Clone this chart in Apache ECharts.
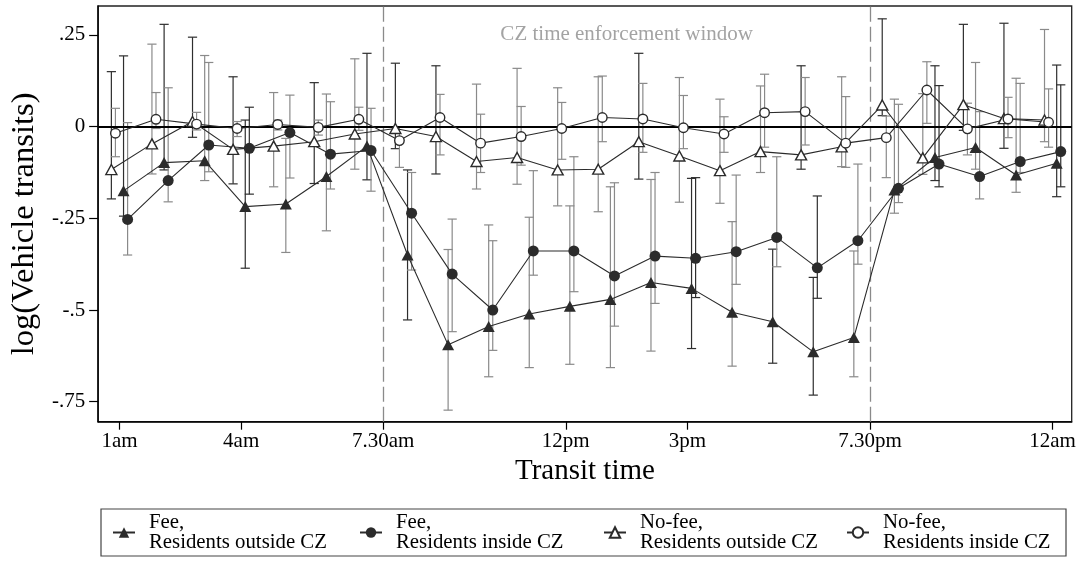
<!DOCTYPE html>
<html>
<head>
<meta charset="utf-8">
<script src="https://cdn.jsdelivr.net/npm/echarts@6.0.0/dist/echarts.min.js"></script>
<style>
  html, body { margin: 0; padding: 0; background: #fff; }
  #chart { width: 1079px; height: 561px; }
</style>
</head>
<body>
<div id="chart"></div>
<script>
// ---- Data: hourly effects on log(vehicle transits), with 95% intervals ----
const hours = [1, 2, 3, 4, 5, 6, 7, 8, 9, 10, 11, 12, 13, 14, 15, 16, 17, 18, 19, 20, 21, 22, 23, 24];

const tickValues = [1, 4, 7.5, 12, 15, 19.5, 24];
const tickLabels = ['1am', '4am', '7.30am', '12pm', '3pm', '7.30pm', '12am'];
const yTickValues = [-0.75, -0.5, -0.25, 0, 0.25];
const yTickLabels = ['-.75', '-.5', '-.25', '0', '.25'];

const windowBounds = [7.5, 19.5];
const windowLabel = 'CZ time enforcement window';
const windowLabelAt = [13.5, 0.25];

const seriesNames = [
  'Fee, Residents outside CZ',
  'Fee, Residents inside CZ',
  'No-fee, Residents outside CZ',
  'No-fee, Residents inside CZ'
];

// Fee, residents outside CZ
const feeOutside   = [-0.175, -0.098, -0.093, -0.218, -0.211, -0.136, -0.053, -0.350, -0.595, -0.545, -0.511, -0.490, -0.471, -0.425, -0.441, -0.506, -0.532, -0.614, -0.575, -0.173, -0.084, -0.057, -0.132, -0.100];
const feeOutsideLo = [-0.244, -0.118, -0.147, -0.386, -0.343, -0.284, -0.145, -0.527, -0.773, -0.682, -0.657, -0.648, -0.657, -0.612, -0.605, -0.653, -0.645, -0.732, -0.682, -0.236, -0.147, -0.116, -0.179, -0.191];
const feeOutsideHi = [ 0.193,  0.279,  0.194,  0.018, -0.032,  0.089,  0.200, -0.118, -0.335, -0.268, -0.247, -0.216, -0.164, -0.144, -0.141, -0.259, -0.334, -0.411, -0.339,  0.075,  0.166,  0.175,  0.132,  0.168];

// Fee, residents inside CZ
const feeInside   = [-0.253, -0.147, -0.050, -0.059, -0.016, -0.075, -0.065, -0.236, -0.402, -0.500, -0.339, -0.339, -0.407, -0.353, -0.359, -0.341, -0.302, -0.385, -0.311, -0.168, -0.102, -0.136, -0.095, -0.068];
const feeInsideLo = [-0.350, -0.205, -0.123, -0.184, -0.140, -0.170, -0.176, -0.391, -0.559, -0.610, -0.405, -0.450, -0.544, -0.482, -0.466, -0.430, -0.382, -0.468, -0.375, -0.207, -0.164, -0.197, -0.125, -0.164];
const feeInsideHi = [ 0.011,  0.106,  0.175,  0.053,  0.086,  0.068,  0.050, -0.125, -0.252, -0.311, -0.120, -0.082, -0.153, -0.125, -0.139, -0.132, -0.082, -0.189, -0.102,  0.061,  0.112,  0.041,  0.118,  0.114];

// No-fee, residents outside CZ
const nofeeOutside   = [-0.117, -0.047,  0.014, -0.062, -0.053, -0.041, -0.020, -0.005, -0.027, -0.095, -0.084, -0.118, -0.116, -0.041, -0.080, -0.120, -0.068, -0.077, -0.055,  0.059, -0.085,  0.060,  0.022,  0.018];
const nofeeOutsideLo = [-0.197, -0.129, -0.029, -0.156, -0.164, -0.155, -0.116, -0.060, -0.129, -0.170, -0.157, -0.216, -0.232, -0.143, -0.206, -0.209, -0.125, -0.116, -0.109,  0.030, -0.130, -0.010, -0.059, -0.041];
const nofeeOutsideHi = [ 0.150,  0.225,  0.244,  0.136,  0.093,  0.120,  0.185,  0.173,  0.166,  0.116,  0.159,  0.106,  0.136,  0.200,  0.134,  0.075,  0.111,  0.166,  0.136,  0.294,  0.090,  0.279,  0.282,  0.265];

// No-fee, residents inside CZ
const nofeeInside   = [-0.018,  0.020,  0.007, -0.005,  0.006, -0.002,  0.020, -0.038,  0.025, -0.045, -0.027, -0.005,  0.025,  0.021, -0.003, -0.020,  0.038,  0.041, -0.045, -0.030,  0.100, -0.006,  0.021,  0.012];
const nofeeInsideLo = [-0.082, -0.005, -0.009, -0.027, -0.009, -0.023, -0.010, -0.111, -0.077, -0.125, -0.105, -0.089, -0.041, -0.070, -0.060, -0.070, -0.056, -0.050, -0.111, -0.139,  0.009, -0.077, -0.030, -0.056];
const nofeeInsideHi = [ 0.050,  0.093,  0.039,  0.014,  0.018,  0.018,  0.053,  0.000,  0.088,  0.034,  0.055,  0.066,  0.138,  0.118,  0.085,  0.027,  0.143,  0.134,  0.082,  0.029,  0.177,  0.064,  0.080,  0.103];

// ---- Styling ----
const FONT = "'Liberation Serif', 'Times New Roman', serif";
const INK = '#2b2b2b';
const CAP_DARK = '#2e2e2e';
const CAP_GRAY = '#8a8a8a';

// which interval caps are drawn in the darker tone (1 = dark)
const capToneFeeOutside   = [1,1,0,1,0,0,1,1,0,0,0,0,0,0,1,0,1,1,0,0,1,0,0,1];
const capToneFeeInside    = [0,0,0,1,0,0,0,0,0,0,0,0,0,0,1,0,0,1,0,0,1,0,0,1];
const capToneNofeeOutside = [1,0,1,1,0,1,0,1,1,0,0,0,0,1,0,0,0,1,0,1,0,1,1,0];
const capToneNofeeInside  = [0,0,0,0,0,0,0,0,0,0,0,0,0,0,0,0,0,0,0,0,0,0,0,0];

const groups = [
  { name: seriesNames[0], values: feeOutside,   lo: feeOutsideLo,   hi: feeOutsideHi,   tone: capToneFeeOutside,
    shift: 0.1,  symbol: 'triangle', size: [12, 11], fill: INK,  border: 0 },
  { name: seriesNames[1], values: feeInside,    lo: feeInsideLo,    hi: feeInsideHi,    tone: capToneFeeInside,
    shift: 0.2,  symbol: 'circle',   size: 11,       fill: INK,  border: 0 },
  { name: seriesNames[2], values: nofeeOutside, lo: nofeeOutsideLo, hi: nofeeOutsideHi, tone: capToneNofeeOutside,
    shift: -0.2, symbol: 'triangle', size: [11, 10], fill: '#fff', border: 1.4 },
  { name: seriesNames[3], values: nofeeInside,  lo: nofeeInsideLo,  hi: nofeeInsideHi,  tone: capToneNofeeInside,
    shift: -0.1, symbol: 'circle',   size: 9.5,      fill: '#fff', border: 1.4 }
];

const legendLefts = [112, 359, 603, 846];

function labelFor(values, labels, v) {
  for (let i = 0; i < values.length; i++) {
    if (Math.abs(values[i] - v) < 1e-6) return labels[i];
  }
  return '';
}

function intervalRenderer(tone) {
  return function (params, api) {
    const x = api.value(0);
    const lo = api.value(1);
    const hi = api.value(2);
    const top = api.coord([x, hi]);
    const bot = api.coord([x, lo]);
    const half = 4.6;
    const stroke = tone[params.dataIndex] ? CAP_DARK : CAP_GRAY;
    const style = { stroke: stroke, lineWidth: 1.2 };
    return {
      type: 'group',
      children: [
        { type: 'line', shape: { x1: top[0], y1: top[1], x2: bot[0], y2: bot[1] }, style: style },
        { type: 'line', shape: { x1: top[0] - half, y1: top[1], x2: top[0] + half, y2: top[1] }, style: style },
        { type: 'line', shape: { x1: bot[0] - half, y1: bot[1], x2: bot[0] + half, y2: bot[1] }, style: style }
      ]
    };
  };
}

const series = [];

// reference lines and window caption
series.push({
  type: 'scatter',
  name: 'window',
  data: [windowLabelAt],
  symbolSize: 0,
  silent: true,
  z: 3,
  label: {
    show: true,
    position: 'inside',
    formatter: windowLabel,
    fontFamily: FONT,
    fontSize: 21,
    color: '#8c8c8c'
  },
  markLine: {
    silent: true,
    symbol: ['none', 'none'],
    label: { show: false },
    data: [
      { xAxis: windowBounds[0], lineStyle: { type: [15, 5], color: '#8a8a8a', width: 1.3 } },
      { xAxis: windowBounds[1], lineStyle: { type: [15, 5], color: '#8a8a8a', width: 1.3 } },
      { yAxis: 0, lineStyle: { type: 'solid', color: '#000', width: 2.2 } }
    ]
  }
});

// confidence intervals
groups.forEach(g => {
  series.push({
    type: 'custom',
    name: g.name + ' interval',
    silent: true,
    z: 2,
    encode: { x: 0, y: [1, 2] },
    data: hours.map((h, i) => [h + g.shift, g.lo[i], g.hi[i]]),
    renderItem: intervalRenderer(g.tone)
  });
});

// point estimates joined by lines
groups.forEach(g => {
  series.push({
    type: 'line',
    name: g.name,
    z: 5,
    data: hours.map((h, i) => [h + g.shift, g.values[i]]),
    symbol: g.symbol,
    symbolSize: g.size,
    showSymbol: true,
    lineStyle: { color: INK, width: 1.1 },
    itemStyle: { color: g.fill, borderColor: INK, borderWidth: g.border },
    emphasis: { disabled: true }
  });
});

const chart = echarts.init(document.getElementById('chart'), null, { renderer: 'canvas' });

chart.setOption({
  animation: false,
  backgroundColor: '#fff',
  grid: {
    left: 95, right: 7.3, top: 6, bottom: 139.3,
    show: true, borderColor: '#222', borderWidth: 1.3, backgroundColor: '#fff'
  },
  xAxis: {
    type: 'value',
    min: 0.474,
    max: 24.47,
    name: 'Transit time',
    nameLocation: 'middle',
    nameGap: 32,
    nameTextStyle: { fontFamily: FONT, fontSize: 29, color: '#000' },
    axisLine: { show: true, onZero: false, lineStyle: { color: '#000', width: 1.5 } },
    axisTick: { show: true, customValues: tickValues, length: 8, lineStyle: { color: '#000', width: 1.2 } },
    axisLabel: {
      customValues: tickValues,
      formatter: v => labelFor(tickValues, tickLabels, v),
      margin: 9,
      fontFamily: FONT,
      fontSize: 21,
      color: '#000'
    },
    splitLine: { show: false }
  },
  yAxis: {
    type: 'value',
    min: -0.8045,
    max: 0.329,
    name: 'log(Vehicle transits)',
    nameLocation: 'middle',
    nameGap: 57,
    nameTextStyle: { fontFamily: FONT, fontSize: 32.5, color: '#000', padding: [0, 20, 0, 0] },
    axisLine: { show: true, onZero: false, lineStyle: { color: '#000', width: 1.5 } },
    axisTick: { show: true, customValues: yTickValues, length: 9, lineStyle: { color: '#000', width: 1.2 } },
    axisLabel: {
      customValues: yTickValues,
      formatter: v => labelFor(yTickValues, yTickLabels, v),
      margin: 13,
      fontFamily: FONT,
      fontSize: 21,
      color: '#000'
    },
    splitLine: { show: false }
  },
  legend: groups.map((g, k) => ({
    data: [g.name],
    left: legendLefts[k],
    top: 512,
    orient: 'horizontal',
    padding: 0,
    itemGap: 0,
    itemWidth: 22,
    itemHeight: 13,
    selectedMode: false,
    formatter: n => n.replace(', ', ',\n'),
    textStyle: { fontFamily: FONT, fontSize: 20.8, lineHeight: 20, color: '#000', padding: [0, 0, 0, 9] }
  })),
  graphic: [{
    type: 'rect',
    silent: true,
    shape: { x: 101, y: 509, width: 965, height: 47 },
    style: { fill: 'none', stroke: '#444', lineWidth: 1.2 }
  }],
  series: series
});
</script>
</body>
</html>
